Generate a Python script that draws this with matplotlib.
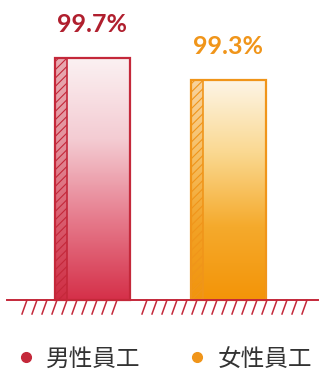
import numpy as np
import matplotlib.pyplot as plt
from matplotlib.colors import LinearSegmentedColormap
from matplotlib.lines import Line2D

plt.rcParams['font.family'] = ['Noto Sans CJK TC', 'DejaVu Sans']
plt.rcParams['hatch.linewidth'] = 0.8

categories = ["男性員工", "女性員工"]
values = [99.7, 99.3]
value_labels = ["99.7%", "99.3%"]
edge_colors = ["#c4283a", "#f0951a"]
text_colors = ["#b01f2e", "#f0951a"]
grad_colors = [["#d53049", "#e67b8c", "#f4ccd3", "#fbf1f2"],
               ["#f39408", "#f5aa2c", "#fad890", "#fdf5e6"]]

base = 95.3
px_per_unit = 55.0
W, H = 323, 372

fig = plt.figure(figsize=(W / 100, H / 100), dpi=100)
ax = fig.add_axes([0, 0, 1, 1])
ax.set_xlim(-92 / 136, (W - 92) / 136)
ax.set_ylim(base - 72 / px_per_unit, base + 300 / px_per_unit)
ax.axis("off")

x = np.arange(len(categories))
width = 75 / 136
bars = ax.bar(x, [v - base for v in values], width, bottom=base,
              facecolor="none", edgecolor=edge_colors, linewidth=1.6, zorder=3)

for i, (b, v) in enumerate(zip(bars, values)):
    cmap = LinearSegmentedColormap.from_list("g%d" % i, grad_colors[i])
    grad = np.linspace(0, 1, 256).reshape(-1, 1)
    x0 = b.get_x()
    im = ax.imshow(grad, cmap=cmap, aspect="auto", origin="lower",
                   extent=[x0, x0 + width, base, v], zorder=1)
    im.set_clip_path(b)
    # shaded left side
    ax.bar(x0, v - base, 12 / 136, bottom=base, align="edge",
           facecolor=edge_colors[i], alpha=0.35, edgecolor="none", zorder=2)
    ax.bar(x0, v - base, 12 / 136, bottom=base, align="edge",
           facecolor="none", edgecolor=edge_colors[i], hatch="////",
           linewidth=1.2, zorder=3)
    ax.annotate(value_labels[i], (i, v), xytext=(0, 24), textcoords="offset points",
                ha="center", va="center", fontsize=18, fontweight="bold",
                color=text_colors[i], family=["Lato", "DejaVu Sans"])

# sketched ground line
ax.plot([-85 / 136, 226 / 136], [base, base], color="#c4283a", lw=1.4, zorder=4)
tick_x = np.concatenate([np.arange(-70, 25, 10), np.arange(50, 215, 10)]) / 136
for tx in tick_x:
    ax.plot([tx, tx + 5 / 136], [base - 14 / px_per_unit, base],
            color="#c4283a", lw=1.1, zorder=4)

handles = [Line2D([], [], marker="o", linestyle="none", markersize=7,
                  color=c) for c in edge_colors]
ax.legend(handles, categories, ncol=2, loc="center",
          bbox_to_anchor=(0.508, 1 - 359 / H), frameon=False,
          fontsize=17, labelcolor="#333333", handlelength=0.8,
          handletextpad=0.45, columnspacing=2.0)

fig.savefig("out.png", dpi=100)
